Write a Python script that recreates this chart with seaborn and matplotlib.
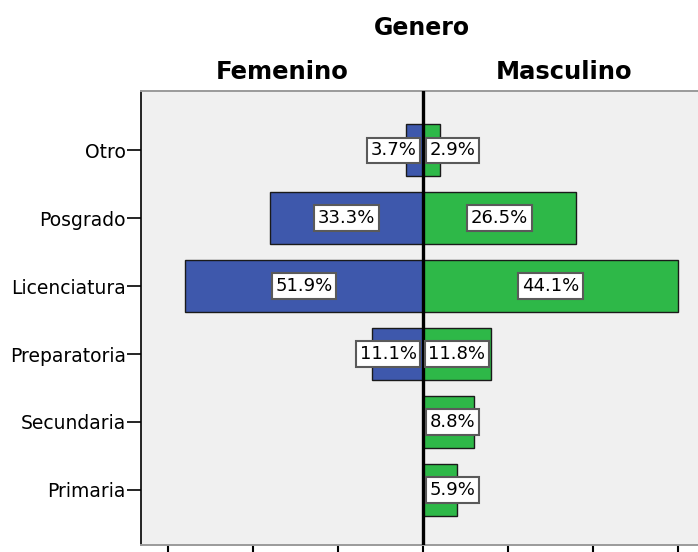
import numpy as np
import pandas as pd
import matplotlib
matplotlib.use('Agg')
import matplotlib.pyplot as plt
import seaborn as sns

# conteos por nivel de estudios (los % se calculan sobre el total de cada genero)
niveles = ['Otro', 'Posgrado', 'Licenciatura', 'Preparatoria', 'Secundaria', 'Primaria']
femenino = [1, 9, 14, 3, 0, 0]
masculino = [1, 9, 15, 4, 3, 2]
generos = ['Femenino', 'Masculino']
colores = ['#3E58AC', '#2EB848']
ticks = [-15, -10, -5, 0, 5, 10, 15]

sns.set_style('white')
plt.rcParams['font.family'] = ['DejaVu Sans']
plt.rcParams['text.color'] = 'black'
plt.rcParams['ytick.color'] = 'black'
plt.rcParams['xtick.color'] = 'black'

df = pd.DataFrame({
    'Nivel': niveles * 2,
    'Genero': ['Femenino'] * len(niveles) + ['Masculino'] * len(niveles),
    'Conteo': [-v for v in femenino] + masculino,
})

fig = plt.figure(figsize=(6.98, 5.52), dpi=100)
ax = fig.add_axes([141 / 698, 7 / 552, 564 / 698, 454 / 552])
ax.set_facecolor('#F0F0F0')

sns.barplot(
    ax=ax,
    data=df,
    y='Nivel',
    x='Conteo',
    hue='Genero',
    order=niveles,
    hue_order=generos,
    palette=colores,
    saturation=1,
    dodge=False,
    orient='h',
    width=0.76,
    edgecolor='#1a1a1a',
    linewidth=1,
    legend=False)

ax.axvline(0, color='black', lw=2.4, zorder=5)

# etiquetas de porcentaje
caja = dict(boxstyle='square,pad=0.2', fc='white', ec='#5a5a5a', lw=1.5)
for lado, valores in ((-1, femenino), (1, masculino)):
    total = sum(valores)
    for i, n in enumerate(valores):
        if n == 0:
            continue
        txt = '%.1f%%' % (100 * n / total)
        if n >= 4:
            x, ha = lado * n / 2, 'center'
        else:
            x, ha = lado * 0.38, ('right' if lado < 0 else 'left')
        ax.text(x, i, txt, ha=ha, va='center', fontsize=13, color='black',
                bbox=caja, zorder=6)

ax.set_xlim(-16.6, 16.6)
ax.set_ylim(5.81, -0.87)
ax.set_xticks(ticks)
ax.set_xlabel('')
ax.set_ylabel('')
# las etiquetas del eje x quedan fuera del recorte en la referencia
ax.tick_params(axis='x', bottom=True, labelbottom=False, length=9, width=1.5,
               direction='out')
ax.tick_params(axis='y', left=True, length=10, width=1.2, direction='out',
               labelsize=13.5, labelcolor='black', pad=1)

ax.spines['left'].set_color('black')
ax.spines['left'].set_linewidth(1.2)
for s in ['top', 'bottom']:
    ax.spines[s].set_color('#9a9a9a')
    ax.spines[s].set_linewidth(1.4)
ax.spines['right'].set_visible(False)

fig.text(422 / 698, 1 - 28 / 552, 'Genero', ha='center', va='center',
         fontsize=17, fontweight='bold')
ax.text(0.25, 1 + 19 / 454, 'Femenino', transform=ax.transAxes,
        ha='center', va='center', fontsize=17.5, fontweight='bold')
ax.text(0.75, 1 + 19 / 454, 'Masculino', transform=ax.transAxes,
        ha='center', va='center', fontsize=17.5, fontweight='bold')

fig.savefig('out.png', dpi=100)
